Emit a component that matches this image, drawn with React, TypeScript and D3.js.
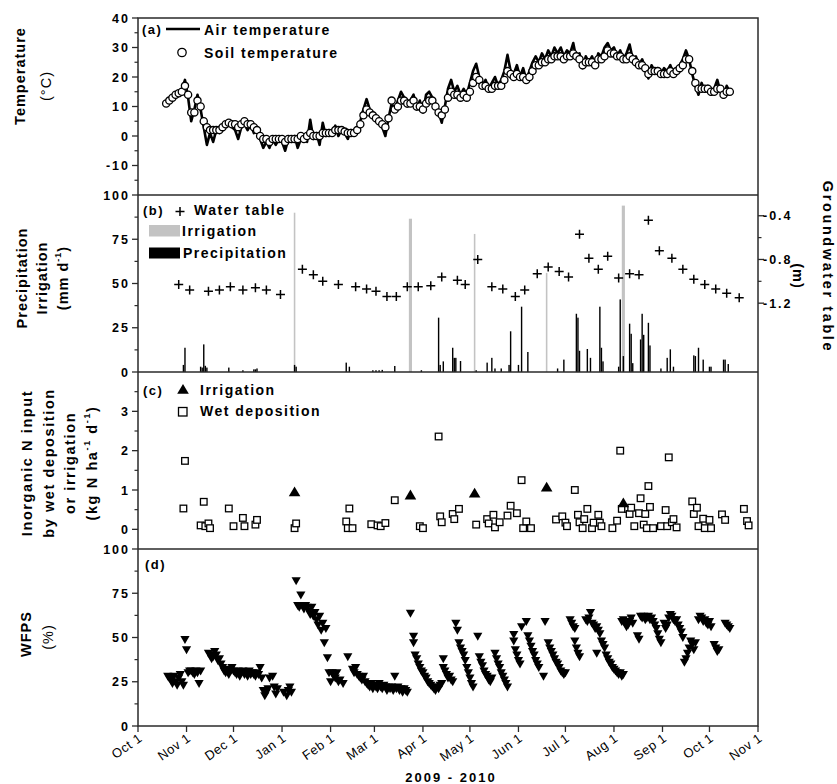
import React from "react";
import * as d3 from "d3";

// Study period 1 Oct 2009 – 1 Nov 2010. Records are keyed by day offset from START.
const START = new Date(2009, 9, 1);
const END = new Date(2010, 10, 1);

// Daily temperatures, every second day from day 18 (19 Oct 2009)
const TEMP_FIRST_DAY = 18;
const TEMP_STEP = 2;
const airTemp = [
  11.5, 12.5, 13.5, 14, 14.5, 15.5, 19, 13, 5, 9,
  14, 9, 3, -3, 1, -2, 2, 1, 3, 4,
  5, 3, 2, -1, 3, 4, 2, 4, 1, 2,
  -1, -4, -2, -4, -1, -3, -1, -2, -5, -1,
  -2, 0, -4, -1, 0, -2, 5.5, -1, 1, -3,
  4.5, 0, 2, 1, 3.5, 0, 2, 1, -1, 2,
  1, 1.5, 5, 9, 12.5, 9, 7, 7, 5, 3,
  0, 6, 11, 9, 12, 15, 13, 10, 12, 14,
  9, 12, 8, 14, 15, 13, 11, 8, 4.5, 10,
  16, 19, 15, 17, 14, 16, 14, 18, 22, 24.5,
  20, 17, 19, 16, 18, 20, 17, 19, 22, 27.5,
  22, 21, 24, 20, 23, 19, 22, 25, 27, 25,
  28, 26, 29, 27, 30, 28, 30, 27, 29, 28,
  31.5, 26, 28, 23, 27, 25, 27, 24, 28, 27,
  30, 31.5, 29, 30, 27, 29, 26, 28, 31, 26,
  27, 24, 26, 23, 19.5, 24, 22, 23, 21, 23,
  22, 24, 21, 23, 24, 26, 29, 26, 21, 17,
  14, 18, 15, 17, 14, 16, 19, 15, 13, 17,
  15,
];
const soilTemp = [
  11, 12, 13, 14, 14.5, 15, 17, 14, 8, 8,
  12, 10, 5, 3, 2, 2, 2, 2, 3, 4,
  4.5, 4, 4, 3, 4, 5, 4, 4, 3, 2,
  0, -1, -1, -2, -1, -1, -1, -1, -2, -1,
  -1, -1, -1, 0, -1, 0, 1, 0, 0, 0,
  1, 1, 1, 1, 2, 2, 2, 1.5, 1, 1,
  1, 2, 4, 7, 9, 8, 7, 6, 5, 4,
  3, 6, 12, 9, 10, 12, 12, 11, 11, 12,
  10, 10, 9, 11, 12, 12, 10, 8, 7, 9,
  13, 15, 14, 14, 13, 14, 13, 15, 18, 20,
  19, 17, 17, 16, 16, 17, 17, 17, 19, 22,
  21, 20, 21, 20, 20, 19, 20, 22, 24, 24,
  25, 25, 26, 26, 27, 27, 27, 26, 27, 27,
  28, 27, 26, 24, 25, 25, 25, 24, 26, 26,
  27, 29, 28, 28, 27, 27, 26, 26, 27, 26,
  25, 24, 24, 23, 21, 22, 22, 22, 21, 21,
  21, 22, 21, 22, 23, 24, 26, 26, 22, 18,
  16, 16, 16, 16, 15, 15, 16, 16, 14, 15,
  15,
];

// [day, mm]
const precipitation: [number, number][] = [
  [29, 4], [30, 13.7], [40, 3], [41, 2.5], [42, 15.6], [43, 3.5], [44, 2.5],
  [58, 2.5], [67, 1], [74, 1.5], [75, 1.5], [76, 2], [100, 4], [101, 3],
  [133, 5.3], [135, 3], [150, 1], [152, 1], [154, 1], [156, 1.2], [164, 3.4],
  [181, 1], [192, 30.7], [193, 4], [195, 6], [201, 13.7], [202, 8], [203, 8],
  [206, 6.2], [216, 1], [223, 5.3], [226, 8], [228, 2], [232, 2], [237, 4],
  [238, 23], [243, 4], [245, 36.9], [249, 11.3], [268, 2], [272, 7],
  [280, 32.9], [281, 30.7], [282, 12], [287, 13], [289, 8], [295, 36.9],
  [296, 13.7], [297, 6], [307, 3], [308, 41], [310, 9], [314, 27.3],
  [315, 21.6], [316, 5], [321, 18.4], [322, 32.9], [323, 21], [326, 27.8],
  [327, 15], [334, 2], [338, 8], [340, 12.8], [342, 3], [355, 9.4], [356, 9],
  [358, 13.7], [361, 7], [365, 3], [366, 3], [374, 7], [375, 7], [377, 4.5],
];

// [day, mm, duration in days]
const irrigation: [number, number, number][] = [
  [100, 90, 1], [174, 86.6, 2], [215, 78, 1], [261, 56, 1], [310, 94, 2],
];

// [day, depth m]
const waterTable: [number, number][] = [
  [26, -1.03], [33, -1.08], [45, -1.09], [52, -1.08], [59, -1.05], [67, -1.08],
  [75, -1.06], [82, -1.08], [91, -1.12], [105, -0.89], [112, -0.94], [118, -1.0],
  [128, -1.03], [139, -1.05], [146, -1.07], [152, -1.09], [159, -1.14], [165, -1.14],
  [172, -1.05], [179, -1.05], [187, -1.04], [194, -0.96], [204, -0.99], [209, -1.03],
  [217, -0.8], [226, -1.05], [233, -1.07], [241, -1.14], [247, -1.08], [255, -0.93],
  [262, -0.87], [269, -0.91], [275, -0.96], [282, -0.57], [288, -0.79], [294, -0.89],
  [300, -0.77], [307, -0.97], [314, -0.93], [320, -0.94], [326, -0.44], [333, -0.72],
  [341, -0.79], [348, -0.89], [355, -0.98], [362, -1.03], [369, -1.07], [376, -1.11],
  [384, -1.15],
];

// Inorganic N input, kg N ha-1 d-1: [day, value]
const irrigationN: [number, number][] = [
  [100, 0.95], [174, 0.87], [215, 0.92], [261, 1.07], [310, 0.67],
];
const wetDeposition: [number, number][] = [
  [29, 0.53], [30, 1.74], [40, 0.1], [42, 0.7], [43, 0.08], [45, 0.15], [46, 0.03],
  [58, 0.53], [61, 0.08], [67, 0.29], [68, 0.08], [75, 0.12], [76, 0.24], [100, 0.03],
  [101, 0.15], [133, 0.2], [134, 0.03], [135, 0.53], [137, 0.03], [149, 0.13],
  [153, 0.1], [155, 0.08], [158, 0.16], [164, 0.74], [180, 0.08], [182, 0.03],
  [192, 2.36], [193, 0.33], [194, 0.18], [201, 0.39], [202, 0.26], [205, 0.52],
  [216, 0.12], [223, 0.26], [224, 0.15], [227, 0.37], [228, 0.05], [231, 0.18],
  [236, 0.35], [238, 0.6], [242, 0.41], [245, 1.25], [246, 0.03], [248, 0.2],
  [251, 0.03], [267, 0.25], [271, 0.33], [273, 0.17], [274, 0.08], [279, 1.0],
  [281, 0.37], [282, 0.18], [284, 0.03], [285, 0.26], [287, 0.52], [290, 0.03],
  [291, 0.17], [294, 0.37], [295, 0.17], [296, 0.08], [303, 0.03], [306, 0.22],
  [308, 2.0], [309, 0.52], [313, 0.52], [314, 0.39], [315, 0.55], [317, 0.08],
  [320, 0.41], [321, 0.79], [323, 0.12], [324, 0.39], [325, 0.03], [326, 1.1],
  [327, 0.57], [329, 0.03], [334, 0.08], [337, 0.49], [338, 0.08], [339, 1.83],
  [341, 0.18], [342, 0.26], [344, 0.05], [354, 0.71], [355, 0.39], [357, 0.55],
  [358, 0.08], [361, 0.27], [362, 0.03], [365, 0.24], [366, 0.03], [373, 0.38],
  [375, 0.24], [387, 0.52], [389, 0.21], [390, 0.1],
];

// Water-filled pore space, %: [day, value]
const wfpsAutumn: [number, number][] = [
  [19, 28], [20, 27], [21, 26], [22, 24], [23, 28], [24, 25], [25, 23], [26, 27],
  [27, 29], [28, 25], [29, 23], [30, 48.8], [31, 43], [32, 30], [33, 31], [34, 31],
  [35, 30], [36, 29], [37, 31], [38, 30], [39, 24], [40, 31],
  [45, 41], [46, 40], [47, 38], [48, 39], [49, 42], [50, 40], [51, 37], [52, 38],
  [53, 35], [54, 33], [55, 31], [56, 30], [57, 32], [58, 29], [59, 31], [60, 33],
  [61, 31], [62, 30], [63, 29], [64, 31], [65, 28], [66, 30], [67, 31], [68, 29],
  [69, 30], [70, 28], [71, 31], [72, 29], [73, 30], [74, 29], [75, 28], [76, 30],
  [77, 29], [78, 33], [79, 27], [80, 20], [81, 17], [82, 19], [83, 21], [84, 27],
  [86, 28], [87, 22], [88, 18], [89, 21], [93, 19], [95, 17], [96, 20], [97, 22],
  [98, 19],
];
const wfpsWinter: [number, number][] = [
  [101, 82], [102, 68], [103, 67], [104, 74], [105, 68], [106, 66], [107, 68],
  [108, 67], [109, 65], [110, 63], [111, 67], [112, 62], [113, 64], [114, 60],
  [115, 57], [116, 62], [117, 54], [118, 58], [119, 47], [120, 55], [121, 38.5],
  [122, 30], [123, 25], [124, 30], [125, 28], [126, 27], [127, 30], [128, 25],
  [129, 26], [131, 24], [134, 39], [137, 32], [138, 30], [139, 33], [140, 29],
  [141, 28], [142, 27], [143, 26], [144, 28], [145, 25], [146, 24], [147, 23],
  [148, 22], [149, 24], [150, 21], [151, 23], [152, 22], [153, 21], [154, 24],
  [155, 22], [156, 21], [157, 23], [158, 22], [159, 20], [160, 22], [161, 21],
  [162, 22], [163, 20], [164, 28], [165, 21], [166, 22], [167, 20], [168, 21],
  [169, 19], [170, 21], [171, 20], [172, 19],
];
const wfpsSpring: [number, number][] = [
  [174, 63.6], [176, 50.7], [176, 47], [177, 40], [178, 38], [179, 35], [180, 33],
  [181, 31], [182, 30], [183, 28], [184, 27], [185, 25], [186, 24], [187, 23],
  [188, 22], [189, 21], [190, 20], [191, 22], [192, 21], [193, 23], [194, 24],
  [195, 38], [195, 33], [196, 31], [197, 29], [198, 27], [199, 28], [200, 26],
  [201, 25], [203, 58], [204, 54], [205, 47], [206, 44], [207, 42], [208, 40],
  [209, 37], [210, 33], [211, 30], [212, 27], [213, 24], [214, 22], [217, 50.7],
  [218, 39], [219, 36], [220, 34], [221, 31], [222, 29], [223, 28], [224, 26],
  [225, 25], [226, 27], [228, 41], [229, 38], [230, 35], [231, 33], [232, 30],
  [233, 28], [234, 26], [235, 24], [236, 22], [240, 51.6], [240, 48], [241, 43],
  [242, 40], [243, 37], [244, 35], [245, 56], [248, 59], [249, 51], [250, 48],
  [251, 45], [252, 42], [253, 40], [254, 37], [255, 35], [256, 33], [259, 28],
  [260, 59], [262, 47], [263, 44], [264, 42], [265, 40], [266, 38], [267, 36],
  [268, 35], [269, 33], [270, 31], [271, 30], [272, 29],
];
const wfpsSummer: [number, number][] = [
  [273, 30], [276, 60], [277, 58], [278, 56], [279, 55], [279, 48], [280, 44],
  [281, 41], [282, 39], [286, 60], [287, 59], [288, 61], [289, 64], [290, 58],
  [291, 57], [292, 55], [293, 56], [293, 41], [294, 54], [295, 52], [296, 48],
  [297, 46], [298, 44], [299, 40], [300, 38], [301, 36], [302, 35], [303, 33],
  [304, 32], [305, 31], [306, 30], [307, 29], [308, 30], [309, 28], [309, 59],
  [310, 60], [310, 29], [311, 58], [312, 56], [313, 57], [314, 59], [315, 61],
  [316, 58], [319, 51], [320, 49], [321, 62], [322, 61], [323, 62], [324, 60],
  [325, 61], [326, 62], [327, 60], [328, 61], [329, 59], [330, 57], [331, 55],
  [332, 52], [333, 49], [334, 47], [336, 58], [337, 55], [338, 57], [339, 61],
  [340, 63], [341, 62], [342, 60], [343, 59], [344, 60], [345, 57], [346, 55],
  [347, 53], [348, 50], [349, 36], [350, 38], [351, 41], [352, 44], [353, 48],
  [354, 46], [355, 43], [356, 47], [358, 60], [359, 62], [360, 61], [361, 59],
  [362, 60], [363, 58], [364, 57], [365, 59], [366, 56], [368, 46], [369, 44],
  [370, 42], [371, 43], [375, 58], [376, 57], [377, 56], [378, 55],
];

// Axis ticks
const tempTicks = [40, 30, 20, 10, 0, -10];
const tempMinor = [35, 25, 15, 5, -5, -15];
const rainTicks = [100, 75, 50, 25, 0];
const rainMinor = [87.5, 62.5, 37.5, 12.5];
const depthTicks = [-0.4, -0.8, -1.2];
const depthMinor = [-0.6, -1.0];
const nTicks = [3, 2, 1, 0];
const nMinor = [3.5, 2.5, 1.5, 0.5];
const wfpsTicks = [100, 75, 50, 25, 0];
const wfpsMinor = [87.5, 62.5, 37.5, 12.5];

const W = 837;
const H = 784;
const X0 = 138;
const X1 = 758;
const TOP = 18;
const PH = 177;
const pTop = [TOP, TOP + PH, TOP + 2 * PH, TOP + 3 * PH];
const BOTTOM = TOP + 4 * PH;

const FONT = "'Liberation Sans', Arial, Helvetica, sans-serif";
const FRAME = "#2a2a2a";

const x = d3.scaleTime().domain([START, END]).range([X0, X1]);
const xd = (day: number) => x(new Date(START.getTime() + day * 86400000));
const pxPerDay = xd(1) - xd(0);

const yA = d3.scaleLinear().domain([-20, 40]).range([pTop[1], pTop[0]]);
const yB = d3.scaleLinear().domain([0, 100]).range([pTop[2], pTop[1]]);
const yWT = d3.scaleLinear().domain([-1.83, -0.21]).range([pTop[2], pTop[1]]);
const yC = d3.scaleLinear().domain([-0.5, 4]).range([pTop[3], pTop[2]]);
const yD = d3.scaleLinear().domain([0, 100]).range([BOTTOM, pTop[3]]);

const tickStyle: React.CSSProperties = {
  fontFamily: FONT,
  fontWeight: 700,
  fontSize: 12.5,
  letterSpacing: 2,
};
const legendStyle: React.CSSProperties = {
  fontFamily: FONT,
  fontWeight: 700,
  fontSize: 14,
  letterSpacing: 1.5,
};
const titleStyle: React.CSSProperties = {
  fontFamily: FONT,
  fontWeight: 700,
  fontSize: 14.5,
  letterSpacing: 1,
};

function LeftAxis({
  scale,
  major,
  minor,
  labels,
}: {
  scale: d3.ScaleLinear<number, number>;
  major: number[];
  minor: number[];
  labels: boolean;
}) {
  return (
    <g>
      {major.map((v) => (
        <g key={"M" + v}>
          <line x1={X0 - 6} x2={X0} y1={scale(v)} y2={scale(v)} stroke={FRAME} strokeWidth={1.3} />
          {labels && (
            <text x={X0 - 8} y={scale(v)} dy="0.36em" textAnchor="end" style={tickStyle}>
              {String(v)}
            </text>
          )}
        </g>
      ))}
      {minor.map((v) => (
        <line key={"m" + v} x1={X0 - 3.5} x2={X0} y1={scale(v)} y2={scale(v)} stroke={FRAME} strokeWidth={1.2} />
      ))}
    </g>
  );
}

const upTriangle = "M0,-5.5L5.8,4.3L-5.8,4.3Z";
const downTriangle = "M-4.6,-3.6L4.6,-3.6L0,4.4Z";
const crossPath = "M-4.5,0H4.5M0,-4.5V4.5";

function VTitle({
  x0,
  cy,
  lines,
  rot = -90,
  spacing,
}: {
  x0: number[];
  cy: number;
  lines: React.ReactNode[];
  rot?: number;
  spacing?: number;
}) {
  return (
    <g>
      {lines.map((l, i) => (
        <text
          key={i}
          transform={`translate(${x0[i]},${cy}) rotate(${rot})`}
          textAnchor="middle"
          dominantBaseline="central"
          style={spacing === undefined ? titleStyle : { ...titleStyle, letterSpacing: spacing }}
        >
          {l}
        </text>
      ))}
    </g>
  );
}

const sup = (s: string) => (
  <tspan dy={-5} fontSize={9}>
    {s}
  </tspan>
);

export default function App() {
  const airLine = d3
    .line<number>()
    .x((_, i) => xd(TEMP_FIRST_DAY + i * TEMP_STEP))
    .y((v) => yA(v));

  const months = d3.timeMonth.range(START, d3.timeDay.offset(END, 1));
  const fmt = d3.timeFormat("%b %-d");
  const wfpsAll = [...wfpsAutumn, ...wfpsWinter, ...wfpsSpring, ...wfpsSummer];

  return (
    <div style={{ position: "absolute", left: 0, top: 0 }}>
      <svg width={W} height={H} style={{ display: "block", background: "#fff" }}>
        <rect width={W} height={H} fill="#fff" />

        {/* (a) temperature */}
        <path d={airLine(airTemp) ?? ""} fill="none" stroke="#000" strokeWidth={2.6} strokeLinejoin="round" />
        {soilTemp.map((v, i) => (
          <circle
            key={"s" + i}
            cx={xd(TEMP_FIRST_DAY + i * TEMP_STEP)}
            cy={yA(v)}
            r={3.6}
            fill="#fff"
            stroke="#000"
            strokeWidth={1.3}
          />
        ))}

        {/* (b) irrigation, precipitation, water table */}
        {irrigation.map(([d, mm, dur]) => (
          <rect
            key={"i" + d}
            x={xd(d) - (dur * pxPerDay) / 2}
            width={dur * pxPerDay}
            y={yB(mm)}
            height={yB(0) - yB(mm)}
            fill="#c3c3c3"
          />
        ))}
        {precipitation.map(([d, mm]) => (
          <rect
            key={"p" + d}
            x={xd(d) - pxPerDay * 0.45}
            width={pxPerDay * 0.9}
            y={yB(mm)}
            height={yB(0) - yB(mm)}
            fill="#000"
          />
        ))}
        {waterTable.map(([d, v]) => (
          <path key={"w" + d} d={crossPath} transform={`translate(${xd(d)},${yWT(v)})`} stroke="#000" strokeWidth={1.5} />
        ))}

        {/* (c) inorganic N input */}
        {wetDeposition.map(([d, v], i) => (
          <rect
            key={"n" + i}
            x={xd(d) - 3.3}
            y={yC(v) - 3.3}
            width={6.6}
            height={6.6}
            fill="#fff"
            stroke="#000"
            strokeWidth={1.3}
          />
        ))}
        {irrigationN.map(([d, v]) => (
          <path key={"t" + d} d={upTriangle} transform={`translate(${xd(d)},${yC(v)})`} fill="#000" />
        ))}

        {/* (d) WFPS */}
        {wfpsAll.map(([d, v], i) => (
          <path key={"f" + i} d={downTriangle} transform={`translate(${xd(d)},${yD(v)})`} fill="#000" />
        ))}

        {/* frame */}
        <rect x={X0} y={TOP} width={X1 - X0} height={BOTTOM - TOP} fill="none" stroke={FRAME} strokeWidth={1.5} />
        {[pTop[1], pTop[2], pTop[3]].map((y) => (
          <line key={"sep" + y} x1={X0} x2={X1} y1={y} y2={y} stroke={FRAME} strokeWidth={1.5} />
        ))}

        {/* left axes */}
        <LeftAxis scale={yA} major={tempTicks} minor={tempMinor} labels />
        <LeftAxis scale={yB} major={rainTicks} minor={rainMinor} labels />
        <LeftAxis scale={yC} major={nTicks} minor={nMinor} labels />
        <LeftAxis scale={yD} major={wfpsTicks} minor={wfpsMinor} labels />

        {/* right axis, water table */}
        {depthTicks.map((v) => (
          <g key={"r" + v}>
            <line x1={X1} x2={X1 + 6} y1={yWT(v)} y2={yWT(v)} stroke={FRAME} strokeWidth={1.3} />
            <text x={X1 + 5} y={yWT(v)} dy="0.36em" style={tickStyle}>
              {v.toFixed(1)}
            </text>
          </g>
        ))}
        {depthMinor.map((v) => (
          <line key={"rm" + v} x1={X1} x2={X1 + 3.5} y1={yWT(v)} y2={yWT(v)} stroke={FRAME} strokeWidth={1.2} />
        ))}

        {/* bottom time axis */}
        {months.map((m) => (
          <g key={+m}>
            <line x1={x(m)} x2={x(m)} y1={BOTTOM} y2={BOTTOM + 6} stroke={FRAME} strokeWidth={1.3} />
            <text
              transform={`translate(${x(m) + 5},${BOTTOM + 14}) rotate(-35)`}
              textAnchor="end"
              style={{ fontFamily: FONT, fontSize: 13, letterSpacing: 0.5 }}
            >
              {fmt(m)}
            </text>
          </g>
        ))}
        <text x={(X0 + X1) / 2 + 3} y={782} textAnchor="middle" style={{ ...tickStyle, fontSize: 13 }}>
          2009 - 2010
        </text>

        {/* legends */}
        <text x={142} y={34} style={{ ...legendStyle, fontSize: 13 }}>(a)</text>
        <line x1={166} x2={200} y1={29} y2={29} stroke="#000" strokeWidth={2.6} />
        <text x={204} y={34.5} style={legendStyle}>Air temperature</text>
        <circle cx={182} cy={52.5} r={4.2} fill="#fff" stroke="#000" strokeWidth={1.3} />
        <text x={204} y={57.5} style={legendStyle}>Soil temperature</text>

        <text x={143} y={215} style={{ ...legendStyle, fontSize: 13 }}>(b)</text>
        <path d={crossPath} transform="translate(180,211.5)" stroke="#000" strokeWidth={1.5} />
        <text x={194} y={215} style={legendStyle}>Water table</text>
        <rect x={149} y={225} width={31} height={11.5} fill="#c3c3c3" />
        <text x={182} y={236} style={legendStyle}>Irrigation</text>
        <rect x={149} y={247.5} width={31} height={11} fill="#000" />
        <text x={183} y={258} style={legendStyle}>Precipitation</text>

        <text x={143} y={395} style={{ ...legendStyle, fontSize: 13 }}>(c)</text>
        <path d={upTriangle} transform="translate(183,389.5)" fill="#000" />
        <text x={200} y={395} style={legendStyle}>Irrigation</text>
        <rect x={178.5} y={407.5} width={8.5} height={8.5} fill="#fff" stroke="#000" strokeWidth={1.3} />
        <text x={200} y={416} style={legendStyle}>Wet deposition</text>

        <text x={145} y={569} style={{ ...legendStyle, fontSize: 13 }}>(d)</text>

        {/* axis titles */}
        <VTitle x0={[20]} cy={76} lines={["Temperature"]} />
        <text
          transform="translate(46,86) rotate(-90)"
          textAnchor="middle"
          dominantBaseline="central"
          style={{ ...titleStyle, fontWeight: 400 }}
        >
          (°C)
        </text>

        <VTitle
          x0={[22, 42, 63]}
          cy={278}
          lines={[
            "Precipitation",
            "Irrigation",
            <>
              (mm d{sup("-1")}
              <tspan dy={5}>)</tspan>
            </>,
          ]}
        />

        <VTitle
          x0={[27, 49, 70, 92]}
          cy={463}
          spacing={1.6}
          lines={[
            "Inorganic N input",
            "by wet deposition",
            "or irrigation",
            <>
              (kg N ha{sup("-1")}
              <tspan dy={5}> d</tspan>
              {sup("-1")}
              <tspan dy={5}>)</tspan>
            </>,
          ]}
        />

        <VTitle x0={[26]} cy={634} lines={["WFPS"]} />
        <text
          transform="translate(48,637) rotate(-90)"
          textAnchor="middle"
          dominantBaseline="central"
          style={{ ...titleStyle, fontWeight: 400 }}
        >
          (%)
        </text>

        <VTitle x0={[828]} cy={267} lines={["Groundwater table"]} rot={90} spacing={2.6} />
        <VTitle x0={[798]} cy={276} lines={["(m)"]} rot={90} />
      </svg>
    </div>
  );
}
